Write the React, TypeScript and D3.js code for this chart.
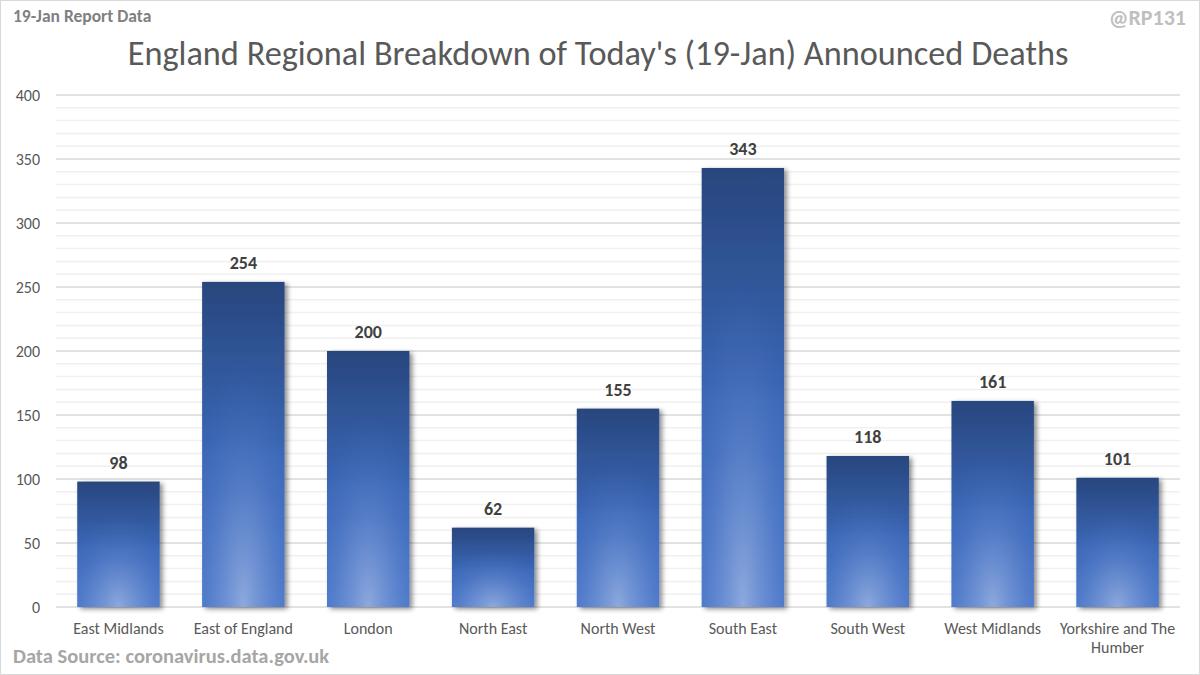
import React from "react";
import * as d3 from "d3";

const categories = ["East Midlands", "East of England", "London", "North East", "North West", "South East", "South West", "West Midlands", "Yorkshire and The Humber"];
const deaths = [98, 254, 200, 62, 155, 343, 118, 161, 101];
const yTicks = [0, 50, 100, 150, 200, 250, 300, 350, 400];

const W = 1200, H = 675;
const M = { left: 56, right: 1180, top: 95, bottom: 607 };
const FONT = "Carlito, 'Open Sans', 'Noto Sans', sans-serif";

export default function App() {
  const x = d3.scaleBand<string>().domain(categories).range([M.left, M.right]).paddingInner(0.34).paddingOuter(0.17);
  const y = d3.scaleLinear().domain([0, 400]).range([M.bottom, M.top]);
  const minor = d3.range(0, 401, 10).filter((v) => v % 50 !== 0);

  return (
    <svg width={W} height={H} style={{ position: "absolute", left: 0, top: 0, background: "#fff" }}>
      <defs>
        <linearGradient id="barG" x1="0" y1="0" x2="0" y2="1">
          <stop offset="0%" stopColor="#28467e" />
          <stop offset="55%" stopColor="#3b68b8" />
          <stop offset="100%" stopColor="#4775c9" />
        </linearGradient>
        <radialGradient id="glow" cx="0.5" cy="1" r="0.75" fx="0.5" fy="1">
          <stop offset="0%" stopColor="#9fb6e2" stopOpacity="0.8" />
          <stop offset="60%" stopColor="#7d9bd8" stopOpacity="0.22" />
          <stop offset="100%" stopColor="#4a78cc" stopOpacity="0" />
        </radialGradient>
        <filter id="shadow" x="-20%" y="-10%" width="140%" height="120%">
          <feGaussianBlur in="SourceAlpha" stdDeviation="2.5" />
          <feOffset dx="3" dy="2" result="b" />
          <feComponentTransfer><feFuncA type="linear" slope="0.45" /></feComponentTransfer>
          <feMerge><feMergeNode /><feMergeNode in="SourceGraphic" /></feMerge>
        </filter>
      </defs>
      <rect x={0.5} y={0.5} width={W - 1} height={H - 1} fill="#fff" stroke="#d9d9d9" />
      {minor.map((v) => (
        <line key={"m" + v} x1={M.left} x2={M.right} y1={y(v)} y2={y(v)} stroke="#f0f0f0" strokeWidth={1.5} />
      ))}
      {yTicks.map((v) => (
        <g key={v}>
          <line x1={M.left} x2={M.right} y1={y(v)} y2={y(v)} stroke="#d9d9d9" strokeWidth={1.5} />
          <text x={40} y={y(v)} dy="0.35em" textAnchor="end" fontFamily={FONT} fontSize={16} fill="#595959">{v}</text>
        </g>
      ))}
      {categories.map((c, i) => {
        const bx = x(c)!, bw = x.bandwidth(), by = y(deaths[i]), bh = y(0) - y(deaths[i]);
        const words = c === "Yorkshire and The Humber" ? ["Yorkshire and The", "Humber"] : [c];
        return (
          <g key={c}>
            <g filter="url(#shadow)">
              <rect x={bx} y={by} width={bw} height={bh} fill="url(#barG)" />
            </g>
            <rect x={bx} y={by} width={bw} height={bh} fill="url(#glow)" />
            <text x={bx + bw / 2} y={by - 13} textAnchor="middle" fontFamily={FONT} fontSize={18} fontWeight="bold" fill="#404040">{deaths[i]}</text>
            {words.map((w, j) => (
              <text key={j} x={bx + bw / 2} y={634 + j * 19} textAnchor="middle" fontFamily={FONT} fontSize={16} fill="#595959">{w}</text>
            ))}
          </g>
        );
      })}
      <text x={598} y={65} textAnchor="middle" fontFamily={FONT} fontSize={34.3} fill="#595959">England Regional Breakdown of Today's (19-Jan) Announced Deaths</text>
      <text x={13} y={22} fontFamily={FONT} fontSize={17.5} fontWeight="bold" fill="#7f7f7f">19-Jan Report Data</text>
      <text x={1186} y={25} textAnchor="end" fontFamily={FONT} fontSize={22} fontWeight="bold" fill="#bfbfbf">@RP131</text>
      <text x={13} y={663} fontFamily={FONT} fontSize={20.5} fontWeight="bold" fill="#a6a6a6">Data Source: coronavirus.data.gov.uk</text>
    </svg>
  );
}
